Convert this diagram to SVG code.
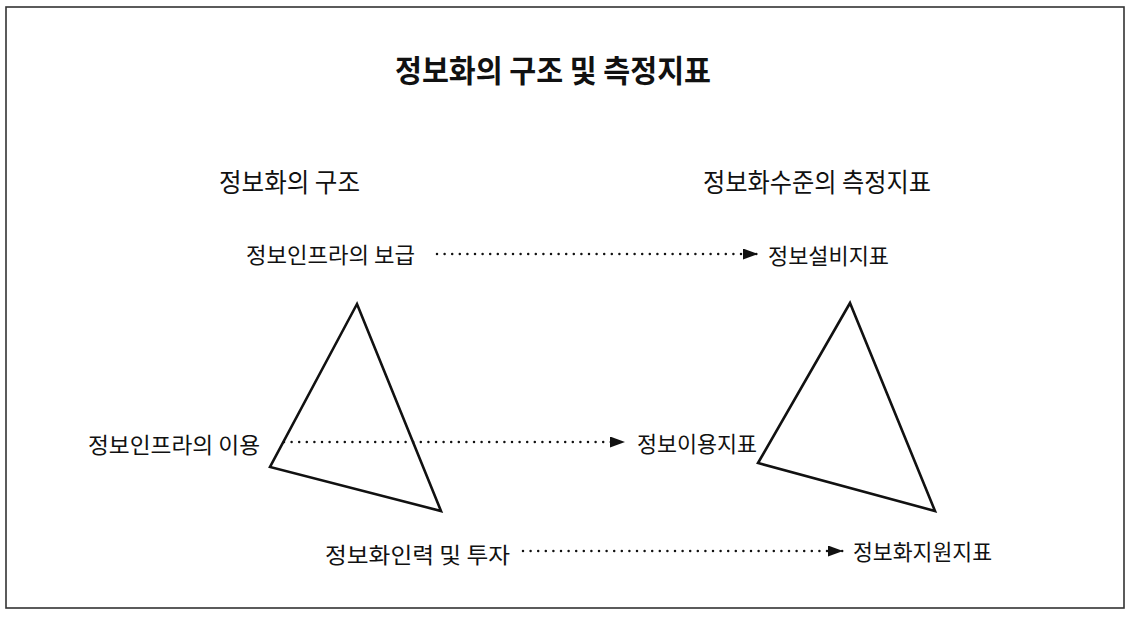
<svg xmlns="http://www.w3.org/2000/svg" width="1130" height="619" viewBox="0 0 1130 619">
<style>
.t{font-family:"Noto Sans CJK KR","Noto Sans",sans-serif;fill:#111;dominant-baseline:central}
.title{font-size:31px;font-weight:bold}
.h{font-size:26px}
.l{font-size:22px}
.dot{stroke:#111;stroke-width:2.5;stroke-linecap:round;stroke-dasharray:0 7.6;fill:none}
.tri{fill:none;stroke:#111;stroke-width:2.6;stroke-linejoin:miter}
</style>
<defs>
<marker id="ah" viewBox="0 0 15 11" refX="15" refY="5.5" markerWidth="15" markerHeight="11" markerUnits="userSpaceOnUse" orient="auto">
<path d="M0,0 L15,5.5 L0,11 z" fill="#111"/>
</marker>
</defs>
<rect x="0" y="0" width="1130" height="619" fill="#fff"/>
<rect x="6" y="7" width="1118" height="601" fill="none" stroke="#333" stroke-width="1.6"/>
<g id="title"><text class="t title" x="553" y="68" text-anchor="middle" textLength="316" lengthAdjust="spacingAndGlyphs">정보화의 구조 및 측정지표</text></g>
<g id="head-left"><text class="t h" x="219" y="180" textLength="141" lengthAdjust="spacingAndGlyphs">정보화의 구조</text></g>
<g id="head-right"><text class="t h" x="703" y="180" textLength="228" lengthAdjust="spacingAndGlyphs">정보화수준의 측정지표</text></g>
<g id="tri-left"><polygon class="tri" points="357,304 270,467 441,511"/></g>
<g id="tri-right"><polygon class="tri" points="850,303 758,463 935,511"/></g>
<g id="n1"><text class="t l" x="246" y="253" textLength="169" lengthAdjust="spacingAndGlyphs">정보인프라의 보급</text></g>
<g id="n2"><text class="t l" x="768" y="253.5" textLength="121" lengthAdjust="spacingAndGlyphs">정보설비지표</text></g>
<g id="n3"><text class="t l" x="88" y="442.5" textLength="172" lengthAdjust="spacingAndGlyphs">정보인프라의 이용</text></g>
<g id="n4"><text class="t l" x="637" y="442" textLength="120" lengthAdjust="spacingAndGlyphs">정보이용지표</text></g>
<g id="n5"><text class="t l" x="325" y="553" textLength="185" lengthAdjust="spacingAndGlyphs">정보화인력 및 투자</text></g>
<g id="n6"><text class="t l" x="853" y="550" textLength="139" lengthAdjust="spacingAndGlyphs">정보화지원지표</text></g>
<g id="connectors">
<line class="dot" x1="437" y1="254" x2="758" y2="254" marker-end="url(#ah)"/>
<line class="dot" x1="284" y1="442" x2="625" y2="442" marker-end="url(#ah)"/>
<line class="dot" x1="523" y1="551" x2="843" y2="551" marker-end="url(#ah)"/>
</g>
</svg>
